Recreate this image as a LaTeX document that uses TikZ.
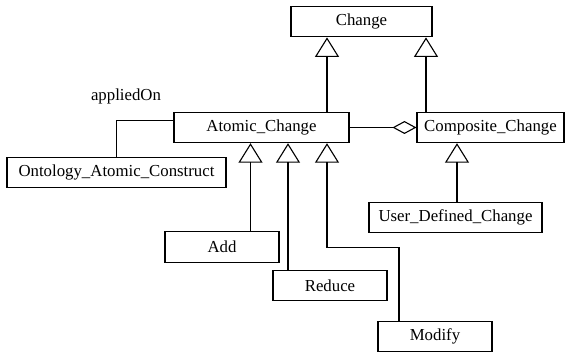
\documentclass[tikz,border=0pt]{standalone}
\usepackage{fontspec}
\setmainfont{Liberation Serif}
\usetikzlibrary{arrows.meta}
\begin{document}
\begin{tikzpicture}[x=1pt,y=-1pt,
  font=\fontsize{16.8pt}{20pt}\selectfont,
  box/.style={draw,line width=1.1pt,inner sep=0pt,minimum height=30.3pt},
  link/.style={line width=1.1pt},
  inh/.style={link,-{Triangle[open,width=24pt,length=19.5pt,line width=1.1pt]}},
  agg/.style={link,-{Diamond[open,width=13pt,length=24pt,line width=1.1pt]}}]
\useasboundingbox (0,0) rectangle (565,352);
\node[box,minimum width=141pt] (change) at (361.5,21.7) {Change};
\node[box,minimum width=175pt] (atomic) at (261.5,127.5) {Atomic\_Change};
\node[box,minimum width=147pt] (comp) at (490.5,127.5) {Composite\_Change};
\node[box,minimum width=219pt] (onto) at (116.5,172.5) {Ontology\_Atomic\_Construct};
\node[box,minimum width=173pt] (user) at (455.5,217.5) {User\_Defined\_Change};
\node[box,minimum width=114pt] (add) at (222,247) {Add};
\node[box,minimum width=114pt] (reduce) at (330,285.8) {Reduce};
\node[box,minimum width=114pt] (modify) at (435,336.6) {Modify};
\node (applied) at (126,96) {appliedOn};
\coordinate (x1) at (327,0);
\coordinate (x2) at (426,0);
\coordinate (xa) at (250.5,0);
\coordinate (xr) at (288,0);
\coordinate (xu) at (457,0);
\coordinate (xm) at (399,0);
\coordinate (yb) at (0,247.3);
\coordinate (yo) at (0,120.7);
\draw[inh] (atomic.north -| x1) -- (change.south -| x1);
\draw[inh] (comp.north -| x2) -- (change.south -| x2);
\draw[inh] (add.north -| xa) -- (atomic.south -| xa);
\draw[inh] (reduce.north -| xr) -- (atomic.south -| xr);
\draw[inh] (modify.north -| xm) -- (xm |- yb) -- (x1 |- yb) -- (atomic.south -| x1);
\draw[inh] (user.north -| xu) -- (comp.south -| xu);
\draw[agg] (atomic.east) -- (comp.west);
\draw[link] (atomic.west |- yo) -| (onto.north);
\end{tikzpicture}
\end{document}
